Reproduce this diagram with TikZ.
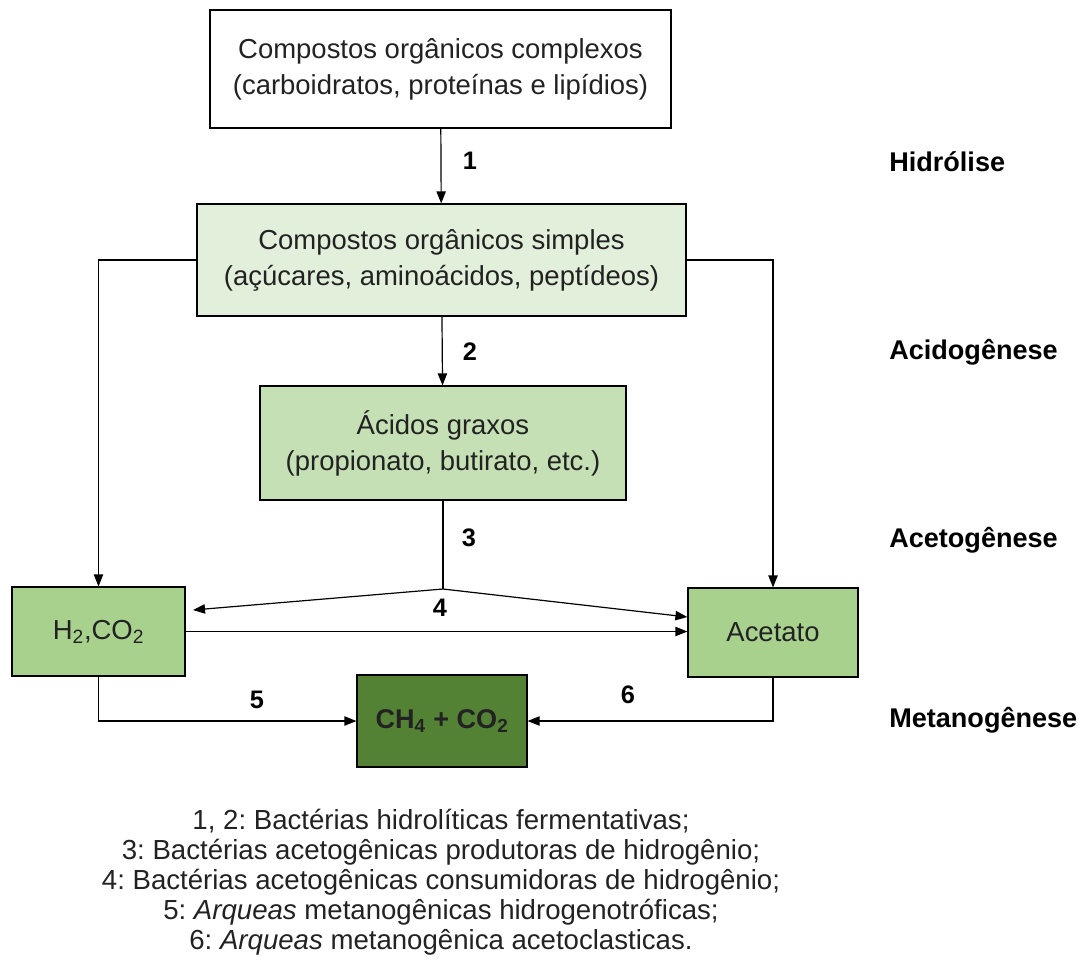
\documentclass[tikz,border=0pt]{standalone}
\usepackage{fontspec}
\setmainfont{Liberation Sans}
\usetikzlibrary{arrows.meta}
\definecolor{gA}{HTML}{E2EFDA}
\definecolor{gB}{HTML}{C5E0B4}
\definecolor{gC}{HTML}{A9D18E}
\definecolor{gD}{HTML}{548235}
\definecolor{txt}{HTML}{222222}
\frenchspacing
\begin{document}
\begin{tikzpicture}[x=0.75pt,y=-0.75pt,
  box/.style={draw=black,line width=0.9pt,align=center,inner sep=0pt,font=\fontsize{20.6}{27}\selectfont,text=txt},
  lbl/.style={font=\bfseries\fontsize{19}{22}\selectfont},
  side/.style={font=\bfseries\fontsize{20.3}{24}\selectfont,anchor=west,inner sep=0pt},
  arr/.style={line width=0.9pt,-{Triangle[length=9pt,width=7pt]}},
  ln/.style={line width=0.9pt}]
\useasboundingbox (0,0) rectangle (1087,971);
\node[box,fill=white,minimum width=461*0.75pt,minimum height=118*0.75pt] (b1) at (440.5,69) {Compostos orgânicos complexos\\(carboidratos, proteínas e lipídios)};
\node[box,fill=gA,minimum width=489*0.75pt,minimum height=112*0.75pt] (b2) at (441.5,260) {Compostos orgânicos simples\\(açúcares, aminoácidos, peptídeos)};
\node[box,fill=gB,minimum width=366*0.75pt,minimum height=114*0.75pt] (b3) at (443,443) {Ácidos graxos\\(propionato, butirato, etc.)};
\node[box,fill=gC,minimum width=173*0.75pt,minimum height=89*0.75pt] (h2) at (98.5,631.5) {H\textsubscript{2},CO\textsubscript{2}};
\node[box,fill=gC,minimum width=170*0.75pt,minimum height=89*0.75pt] (ac) at (773,632.5) {Acetato};
\node[box,fill=gD,minimum width=170*0.75pt,minimum height=92*0.75pt,font=\bfseries\fontsize{20.3}{24}\selectfont] (ch) at (442,721) {CH\textsubscript{4} + CO\textsubscript{2}};
% connectors
\draw[arr] (b1) -- (b2);
\draw[arr] (b2) -- (b3);
\draw[arr] (b2.west) -| (h2.north);
\draw[arr] (b2.east) -| (ac.north);
\coordinate (j) at (443,589);
\draw[ln] (b3.south) -- (j);
\draw[arr] (j) -- (193,610);
\draw[arr] (j) -- (ac.west |- 0,617);
\draw[arr] (h2.east) -- (ac.west |- h2.east);
\draw[arr] (h2.south) |- (ch.west);
\draw[arr] (ac.south) |- (ch.east);
% numbers
\node[lbl] at (470,161) {1};
\node[lbl] at (470,352) {2};
\node[lbl] at (469,538) {3};
\node[lbl] at (440,608) {4};
\node[lbl] at (257,700) {5};
\node[lbl] at (628,695) {6};
% stage labels
\node[side] at (889,162) {Hidrólise};
\node[side] at (889,352) {Acidogênese};
\node[side] at (889,540) {Acetogênese};
\node[side] at (889,720) {Metanogênese};
% legend
\node[align=center,font=\fontsize{20.7}{22.6}\selectfont,text=txt,inner sep=0pt] (leg) at (441,882) {1, 2: Bactérias hidrolíticas fermentativas;\\3: Bactérias acetogênicas produtoras de hidrogênio;\\4: Bactérias acetogênicas consumidoras de hidrogênio;\\5: \textit{Arqueas} metanogênicas hidrogenotróficas;\\6: \textit{Arqueas} metanogênica acetoclasticas.};
\end{tikzpicture}
\end{document}
